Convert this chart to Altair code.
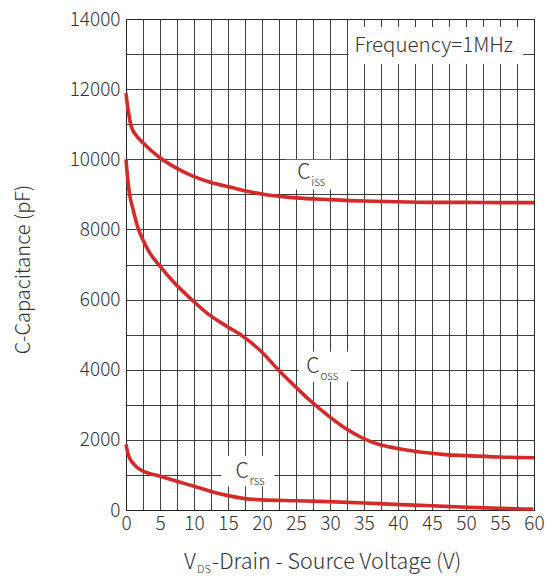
import altair as alt
import pandas as pd

# ---- data ----
ciss_v = [0, 0.2, 0.45, 0.68, 1.0, 1.5, 2.5, 3.7, 5, 7.5, 10, 12.5, 15.3, 18, 20.6, 25, 30, 35, 40,
          45, 50, 55, 60]
ciss_c = [11880, 11550, 11250, 11000, 10830, 10680, 10470, 10250, 10045, 9740, 9505, 9340, 9210,
          9080, 8990, 8900, 8850, 8810, 8790, 8770, 8770, 8765, 8765]

coss_v = [0, 0.25, 0.53, 1.0, 1.84, 2.5, 3.5, 4.8, 7, 9.7, 12, 14.8, 17.2, 20, 22.6, 25, 26.9, 30,
          32.5, 34.7, 37, 39.5, 42, 44.3, 47, 50, 55, 60]
coss_c = [10000, 9450, 9000, 8600, 8000, 7700, 7330, 7000, 6500, 5990, 5600, 5240, 4950, 4500, 3955,
          3500, 3150, 2650, 2300, 2060, 1880, 1770, 1690, 1630, 1580, 1550, 1510, 1490]

crss_v = [0, 0.3, 0.6, 1.0, 1.6, 2.5, 5, 7.5, 10, 12.5, 15, 17.5, 20, 25, 29.8, 35, 39.5, 45,
          49.2, 55, 59.9]
crss_c = [1870, 1600, 1450, 1346, 1220, 1110, 965, 820, 675, 530, 410, 325, 290, 265, 240, 200,
          160, 120, 85, 45, 25]

x_ticks = [i * 2.5 for i in range(25)]
y_ticks = list(range(0, 14001, 1000))

# label annotations (data coordinates)
lab_name = ["C", "C", "C"]
lab_sub = ["iss", "oss", "rss"]
lab_v = [25.2, 26.5, 16.1]
lab_c = [9450, 3900, 900]
box_v1 = [23.5, 25.4, 14.0]
box_v2 = [31.5, 33.0, 21.8]
box_c1 = [9990, 4510, 1540]
box_c2 = [9135, 3660, 680]

freq_text = ["Frequency=1MHz"]
freq_v = [33.6]
freq_c = [13240]
fbox_v1 = [32.7]
fbox_v2 = [58.4]
fbox_c1 = [13770]
fbox_c2 = [12720]

# ---- build tables ----
curves = pd.concat([
    pd.DataFrame({"V": ciss_v, "C": ciss_c, "s": "Ciss"}),
    pd.DataFrame({"V": coss_v, "C": coss_c, "s": "Coss"}),
    pd.DataFrame({"V": crss_v, "C": crss_c, "s": "Crss"}),
])
labels = pd.DataFrame({"name": lab_name, "sub": lab_sub, "V": lab_v, "C": lab_c,
                       "v1": box_v1, "v2": box_v2, "c1": box_c1, "c2": box_c2})
freq = pd.DataFrame({"t": freq_text, "V": freq_v, "C": freq_c,
                     "v1": fbox_v1, "v2": fbox_v2, "c1": fbox_c1, "c2": fbox_c2})

FONT = "Noto Sans CJK SC"
TXT = "#333333"
RED = "#d42a2a"
FW = 300

xs = alt.Scale(domain=[0, 60], nice=False, zero=False)
ys = alt.Scale(domain=[0, 14000], nice=False)

xaxis = alt.Axis(values=x_ticks, labelExpr="datum.value % 5 == 0 ? datum.label : ''",
                 title=None, grid=True, ticks=False, labelPadding=4,
                 labelFontSize=19, labelColor=TXT, labelFont=FONT, labelFontWeight=FW,
                 domainColor="#222", gridColor="#2a2a2a", gridOpacity=1, gridWidth=0.9,
                 labelOverlap=False, labelFlush=False)
yaxis = alt.Axis(values=y_ticks, labelExpr="datum.value % 2000 == 0 ? datum.label : ''",
                 format="d", title="C-Capacitance (pF)", grid=True, ticks=False, labelPadding=6,
                 labelFontSize=19, labelColor=TXT, labelFont=FONT, labelFontWeight=FW,
                 domainColor="#222", gridColor="#2a2a2a", gridOpacity=1, gridWidth=0.9,
                 labelOverlap=False, labelFlush=False,
                 titleFont=FONT, titleFontSize=20, titleFontWeight=FW, titleColor=TXT,
                 titleX=-103, titleY=250, titleAngle=-90, titleAlign="center",
                 titleBaseline="middle")


def X(f):
    return alt.X(f, scale=xs, axis=xaxis)


def Y(f):
    return alt.Y(f, scale=ys, axis=yaxis)


lines = alt.Chart(curves).mark_line(color=RED, strokeWidth=3.6, interpolate="monotone").encode(
    x=X("V:Q"), y=Y("C:Q"), detail="s:N")

boxes = alt.Chart(labels).mark_rect(color="white").encode(
    x=X("v1:Q"), x2="v2", y=Y("c1:Q"), y2="c2")
cname = alt.Chart(labels).mark_text(font=FONT, fontSize=21, fontWeight=FW, color=TXT,
                                    align="left", baseline="alphabetic").encode(
    x=X("V:Q"), y=Y("C:Q"), text="name:N")
csub = alt.Chart(labels).mark_text(font=FONT, fontSize=12, fontWeight=FW, color=TXT,
                                   align="left", baseline="alphabetic", dx=14, dy=7).encode(
    x=X("V:Q"), y=Y("C:Q"), text="sub:N")

fbox = alt.Chart(freq).mark_rect(color="white").encode(
    x=X("v1:Q"), x2="v2", y=Y("c1:Q"), y2="c2")
ftext = alt.Chart(freq).mark_text(font=FONT, fontSize=20.5, fontWeight=FW, color=TXT,
                                  align="left", baseline="middle").encode(
    x=X("V:Q"), y=Y("C:Q"), text="t:N")

t1 = alt.Chart(pd.DataFrame({"t": ["V"]})).mark_text(
    font=FONT, fontSize=21.5, fontWeight=FW, color=TXT, align="left", baseline="alphabetic").encode(
    x=alt.value(58), y=alt.value(550), text="t:N")
t2 = alt.Chart(pd.DataFrame({"t": ["DS"]})).mark_text(
    font=FONT, fontSize=11, fontWeight=FW, color=TXT, align="left", baseline="alphabetic").encode(
    x=alt.value(71), y=alt.value(554), text="t:N")
t3 = alt.Chart(pd.DataFrame({"t": ["-Drain - Source Voltage (V)"]})).mark_text(
    font=FONT, fontSize=21.5, fontWeight=FW, color=TXT, align="left", baseline="alphabetic").encode(
    x=alt.value(86), y=alt.value(550), text="t:N")

chart = alt.layer(lines, boxes, cname, csub, fbox, ftext, t1, t2, t3).properties(
    width=408, height=491,
    autosize=alt.AutoSizeParams(type="none"),
    padding={"left": 118, "top": 11, "right": 11, "bottom": 65},
).configure_view(stroke="#222", strokeWidth=1)

chart.save("out.html", embed_options={"renderer": "svg", "actions": False})
